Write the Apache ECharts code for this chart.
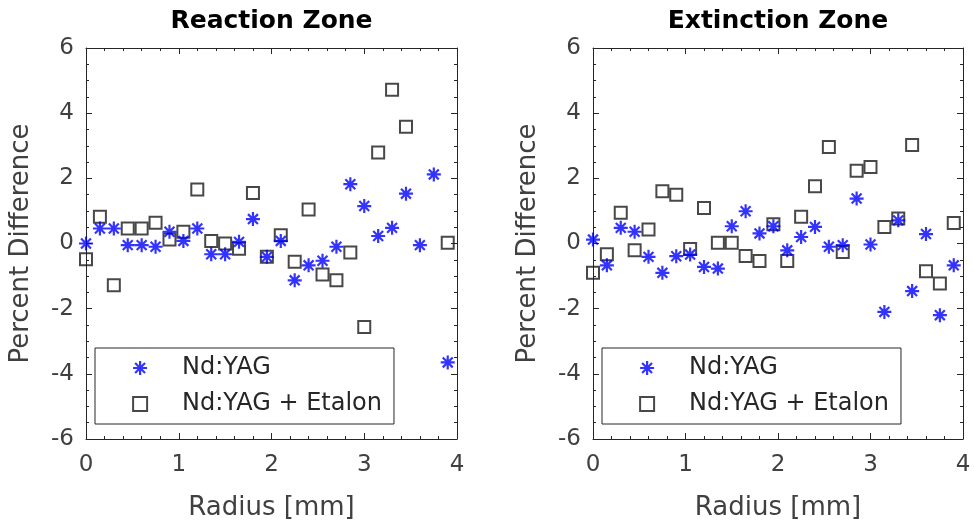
<!DOCTYPE html>
<html>
<head>
<meta charset="utf-8">
<script src="https://cdn.jsdelivr.net/npm/echarts@6/dist/echarts.min.js"></script>
<style>
  html, body { margin: 0; padding: 0; background: #fff; }
  #chart { width: 974px; height: 529px; }
</style>
</head>
<body>
<div id="chart"></div>
<script>
// Radial positions of the measurements [mm]
const radius = [0, 0.15, 0.3, 0.45, 0.6, 0.75, 0.9, 1.05, 1.2, 1.35, 1.5, 1.65, 1.8, 1.95,
                2.1, 2.25, 2.4, 2.55, 2.7, 2.85, 3.0, 3.15, 3.3, 3.45, 3.6, 3.75, 3.9];

// Reaction zone: percent difference
const reactionYag = [0.0, 0.46, 0.46, -0.05, -0.05, -0.1, 0.36, 0.08, 0.46, -0.33, -0.33, 0.05, 0.75, -0.41,
                     0.08, -1.13, -0.67, -0.53, -0.1, 1.82, 1.15, 0.23, 0.48, 1.53, -0.05, 2.12, -3.65];
const reactionEtalon = [-0.48, 0.82, -1.28, 0.46, 0.46, 0.64, 0.12, 0.36, 1.66, 0.08, 0.0, -0.16, 1.55, -0.41,
                        0.25, -0.56, 1.04, -0.95, -1.13, -0.28, -2.56, 2.79, 4.72, 3.58, null, null, 0.02];

// Extinction zone: percent difference
const extinctionYag = [0.12, -0.67, 0.48, 0.36, -0.41, -0.9, -0.39, -0.34, -0.72, -0.77, 0.53, 0.99, 0.31, 0.53,
                       -0.21, 0.2, 0.51, -0.1, -0.05, 1.38, -0.03, -2.1, 0.71, -1.46, 0.29, -2.2, -0.67];
const extinctionEtalon = [-0.9, -0.33, 0.94, -0.21, 0.43, 1.6, 1.5, -0.17, 1.09, 0.02, 0.02, -0.38, -0.54, 0.59,
                          -0.54, 0.82, 1.76, 2.96, -0.26, 2.23, 2.35, 0.51, 0.77, 3.02, -0.85, -1.23, 0.63];

const panelTitles = ['Reaction Zone', 'Extinction Zone'];
const seriesNames = ['Nd:YAG', 'Nd:YAG + Etalon'];
const xTicks = { min: 0, max: 4, step: 1 };
const yTicks = { min: -6, max: 6, step: 2 };

const FONT = 'DejaVu Sans';
const AXIS_COLOR = '#262626';
const TEXT_COLOR = '#404040';
const STAR = 'path://M5,0L5,10M0,5L10,5M1.46,1.46L8.54,8.54M8.54,1.46L1.46,8.54';
const SQUARE = 'path://M0,0L10,0L10,10L0,10Z';

const panels = [
  { left: 86, right: 517, yag: reactionYag, etalon: reactionEtalon },
  { left: 593, right: 11, yag: extinctionYag, etalon: extinctionEtalon }
];

function pairs(values) {
  const out = [];
  radius.forEach((r, i) => { if (values[i] !== null) out.push([r, values[i]]); });
  return out;
}

const tickStyle = { color: AXIS_COLOR, width: 1 };

function xAxisDef(gridIndex, top) {
  return {
    gridIndex, type: 'value', position: top ? 'top' : 'bottom',
    min: xTicks.min, max: xTicks.max, interval: xTicks.step,
    axisLine: { show: true, onZero: false, lineStyle: tickStyle },
    axisTick: { show: true, inside: true, length: 6, lineStyle: tickStyle },
    minorTick: { show: true, splitNumber: 5, length: 3, lineStyle: tickStyle },
    splitLine: { show: false },
    axisLabel: { show: !top, fontSize: 23, color: TEXT_COLOR, fontFamily: FONT, margin: 15 },
    name: top ? '' : 'Radius [mm]',
    nameLocation: 'middle', nameGap: 56,
    nameTextStyle: { fontSize: 26, color: TEXT_COLOR, fontFamily: FONT }
  };
}

function yAxisDef(gridIndex, right) {
  return {
    gridIndex, type: 'value', position: right ? 'right' : 'left',
    min: yTicks.min, max: yTicks.max, interval: yTicks.step,
    axisLine: { show: true, onZero: false, lineStyle: tickStyle },
    axisTick: { show: true, inside: true, length: 6, lineStyle: tickStyle },
    minorTick: { show: true, splitNumber: 4, length: 3, lineStyle: tickStyle },
    splitLine: { show: false },
    axisLabel: { show: !right, fontSize: 23, color: TEXT_COLOR, fontFamily: FONT, margin: 12 },
    name: right ? '' : 'Percent Difference',
    nameLocation: 'middle', nameGap: 52,
    nameTextStyle: { fontSize: 26, color: TEXT_COLOR, fontFamily: FONT }
  };
}

const starStyle = { color: '#0000ff', borderColor: '#0000ff', borderWidth: 2.2 };
const squareStyle = { color: 'rgba(0,0,0,0)', borderColor: '#1a1a1a', borderWidth: 2 };

const option = {
  animation: false,
  backgroundColor: '#ffffff',
  title: panels.map((p, i) => ({
    text: panelTitles[i],
    left: i === 0 ? (86 + 457) / 2 : (593 + 963) / 2,
    top: 9,
    padding: 0,
    textAlign: 'center',
    textStyle: { fontSize: 25, fontWeight: 'bold', color: '#000', fontFamily: FONT }
  })),
  grid: panels.map(p => ({ left: p.left, right: p.right, top: 48, bottom: 90, containLabel: false })),
  xAxis: [xAxisDef(0, false), xAxisDef(0, true), xAxisDef(1, false), xAxisDef(1, true)],
  yAxis: [yAxisDef(0, false), yAxisDef(0, true), yAxisDef(1, false), yAxisDef(1, true)],
  legend: panels.map(p => ({
    left: p.left + 9,
    top: 348,
    orient: 'vertical',
    padding: [8, 12, 8, 37],
    itemWidth: 14,
    itemHeight: 14,
    itemGap: 12,
    borderColor: AXIS_COLOR,
    borderWidth: 1,
    selectedMode: false,
    textStyle: { fontSize: 24, lineHeight: 24, color: AXIS_COLOR, fontFamily: FONT, padding: [0, 0, 0, 30] },
    data: [
      { name: seriesNames[0], icon: STAR, itemStyle: starStyle },
      { name: seriesNames[1], icon: SQUARE, itemStyle: squareStyle }
    ]
  })),
  series: []
};

panels.forEach((p, i) => {
  option.series.push({
    name: seriesNames[0], type: 'scatter', xAxisIndex: i * 2, yAxisIndex: i * 2,
    symbol: STAR, symbolSize: 14, clip: false, itemStyle: starStyle,
    emphasis: { disabled: true }, data: pairs(p.yag), z: 3
  });
  option.series.push({
    name: seriesNames[1], type: 'scatter', xAxisIndex: i * 2, yAxisIndex: i * 2,
    symbol: 'rect', symbolSize: 12, clip: false, itemStyle: squareStyle,
    emphasis: { disabled: true }, data: pairs(p.etalon), z: 2
  });
});

const chart = echarts.init(document.getElementById('chart'));
chart.setOption(option);
</script>
</body>
</html>
